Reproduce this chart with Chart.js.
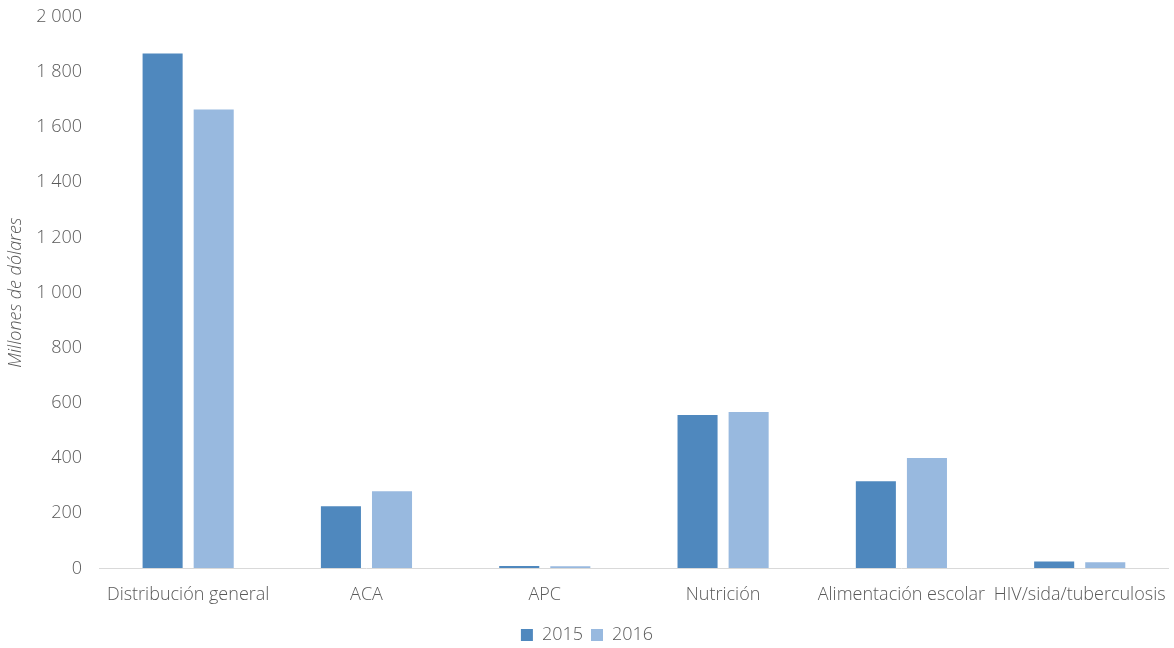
<!DOCTYPE html>
<html>
<head>
<meta charset="utf-8">
<script src="https://cdn.jsdelivr.net/npm/chart.js@4/dist/chart.umd.min.js"></script>
<style>
  html, body { margin: 0; padding: 0; background: #ffffff; }
  #wrap { width: 1174px; height: 648px; position: relative; }
</style>
</head>
<body>
<div id="wrap"><canvas id="c" width="1174" height="648"></canvas></div>
<script>
const categories = ["Distribución general", "ACA", "APC", "Nutrición", "Alimentación escolar", "HIV/sida/tuberculosis"];
const values2015 = [1867, 225, 9, 556, 316, 25];
const values2016 = [1664, 280, 8, 567, 400, 22];
const seriesLabels = ["2015", "2016"];
const yTicks = [0, 200, 400, 600, 800, 1000, 1200, 1400, 1600, 1800, 2000];

const FONT = "'Open Sans', 'Noto Sans', sans-serif";
const TEXT = "#595959";
const SIZE = 18;

Chart.defaults.font.family = FONT;
Chart.defaults.color = TEXT;

new Chart(document.getElementById("c"), {
  type: "bar",
  data: {
    labels: categories,
    datasets: [
      { label: seriesLabels[0], data: values2015, backgroundColor: "#4F88BE", categoryPercentage: 0.573, barPercentage: 0.784 },
      { label: seriesLabels[1], data: values2016, backgroundColor: "#98B9DF", categoryPercentage: 0.573, barPercentage: 0.784 }
    ]
  },
  options: {
    responsive: false,
    animation: false,
    layout: { padding: { left: 5, right: 5, top: 0, bottom: -6 } },
    plugins: {
      tooltip: { enabled: false },
      legend: {
        position: "bottom",
        labels: { boxWidth: 12, boxHeight: 12, padding: 8, font: { size: SIZE, weight: 300, family: FONT }, color: TEXT }
      }
    },
    scales: {
      x: {
        grid: { display: false },
        border: { display: true, color: "#D9D9D9", width: 1 },
        afterFit: (s) => { s.height += 4; },
        ticks: { font: { size: SIZE, weight: 300, family: FONT }, color: TEXT, padding: 8, maxRotation: 0, autoSkip: false }
      },
      y: {
        min: 0, max: 2000,
        afterBuildTicks: (s) => { s.ticks = yTicks.map(v => ({ value: v })); },
        afterFit: (s) => { s.width = 94; },
        grid: { display: true, drawOnChartArea: false, drawTicks: true, tickLength: 11, color: "rgba(0,0,0,0)" },
        border: { display: false },
        ticks: {
          font: { size: SIZE, weight: 300, family: FONT }, color: TEXT, padding: 6,
          callback: (v) => String(v).replace(/\B(?=(\d{3})+(?!\d))/g, " ")
        },
        title: { display: true, text: "Millones de dólares", font: { size: SIZE, weight: 300, style: "italic", family: FONT }, color: TEXT, padding: 0 }
      }
    }
  }
});
</script>
</body>
</html>
